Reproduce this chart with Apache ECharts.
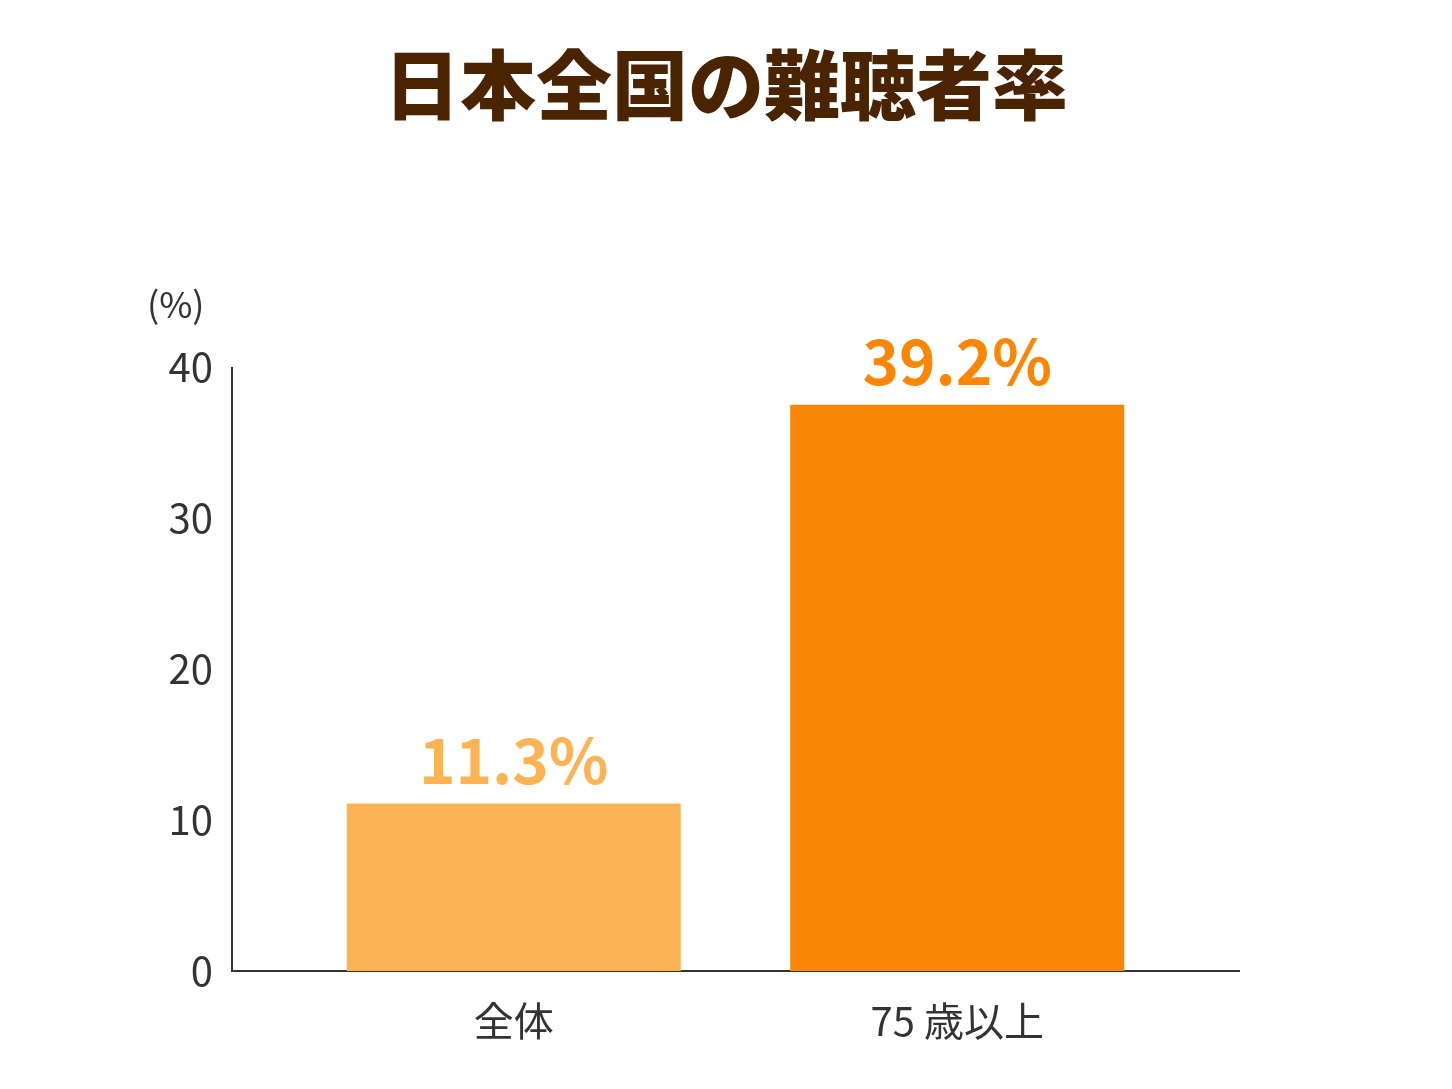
<!DOCTYPE html><html><head><meta charset="utf-8">
<script src="https://cdn.jsdelivr.net/npm/echarts@6/dist/echarts.min.js"></script>
<style>body{margin:0}#c{width:1452px;height:1089px}</style></head><body><div id="c"></div>
<script>
const categories=['全体','75 歳以上'];
const values=[11.1,37.5];
const labels=['11.3%','39.2%'];
const colors=['#fbb354','#fb8605'];
const yTicks=[0,10,20,30,40];
const F='"Noto Sans CJK JP","Noto Sans",sans-serif';
const ch=echarts.init(document.getElementById('c'));
ch.setOption({
 title:{text:'日本全国の難聴者率',left:'center',top:42,textStyle:{fontFamily:F,fontSize:76,fontWeight:900,color:'#4a2300'}},
 grid:{left:292,right:273,top:367,bottom:118},
 xAxis:{type:'category',data:categories,axisLine:{show:false},axisTick:{show:false},
  axisLabel:{fontFamily:F,fontSize:40,color:'#333',margin:30}},
 yAxis:{type:'value',min:0,max:40,interval:10,splitLine:{show:false},axisLine:{show:false},axisTick:{show:false},
  axisLabel:{fontFamily:F,fontSize:40,color:'#333',margin:79}},
 graphic:[
  {type:'line',shape:{x1:232,y1:367,x2:232,y2:971},style:{stroke:'#333',lineWidth:2}},
  {type:'line',shape:{x1:231,y1:971,x2:1240,y2:971},style:{stroke:'#333',lineWidth:2}},
  {type:'text',left:147,top:286,style:{text:'(%)',font:'36px '+F,fill:'#333'}}
 ],
 series:[{type:'bar',barWidth:334,
  data:values.map((v,i)=>({value:v,itemStyle:{color:colors[i]},
   label:{show:true,position:'top',distance:12,formatter:labels[i],fontFamily:F,fontSize:62,fontWeight:'bold',color:colors[i]}}))}]
});
</script></body></html>
